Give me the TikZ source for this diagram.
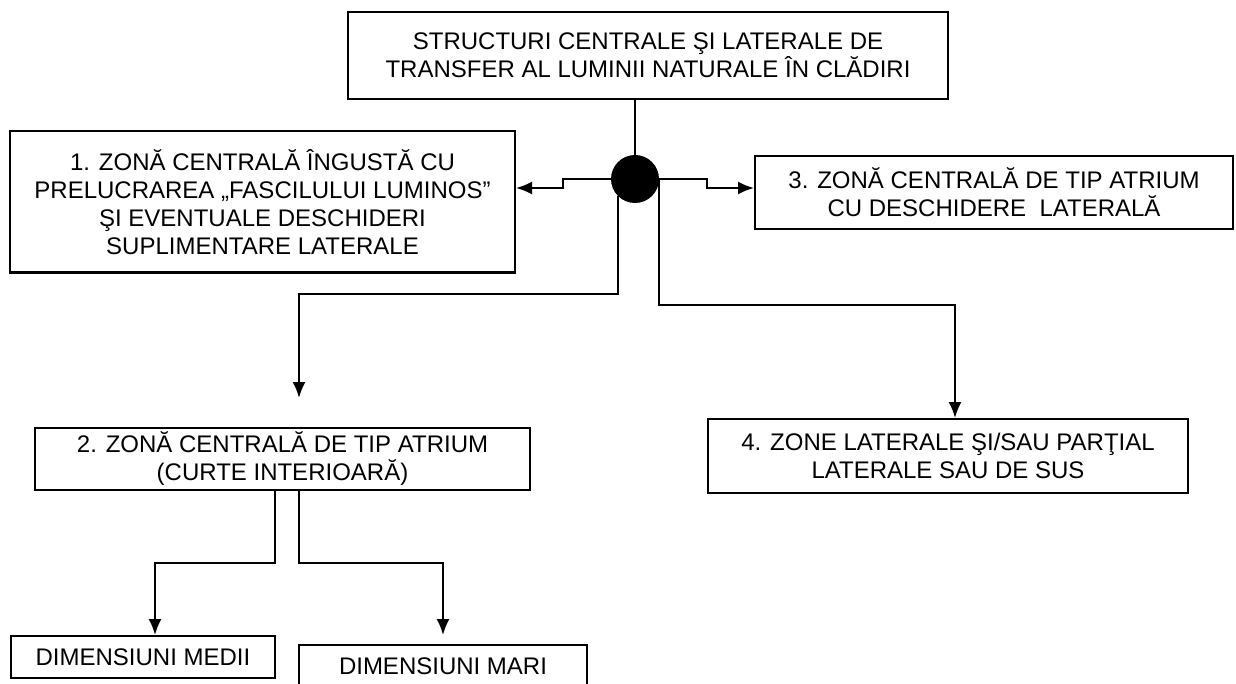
\documentclass[tikz,border=0pt]{standalone}
\usepackage{fontspec}
\setmainfont{Liberation Sans}
\usetikzlibrary{arrows.meta}

\tikzset{
  box/.style={draw, line width=1pt, align=center, inner sep=0pt,
    font=\fontsize{12}{14}\selectfont},
  flow/.style={line width=1pt, -{Latex[length=8pt,width=6.5pt]}},
  hubdot/.style={circle, fill=black, minimum size=24pt, inner sep=0pt}
}

\begin{document}
\begin{tikzpicture}[x=0.5pt,y=-0.5pt]
\clip (0,0) rectangle (1236,684);
% boxes
\node[box, minimum width=300pt, minimum height=43.5pt] (top) at (648,55.5) {STRUCTURI CENTRALE ŞI LATERALE DE\\TRANSFER AL LUMINII NATURALE ÎN CLĂDIRI};
\node[hubdot] (hub) at (635,179) {};
\node[box, minimum width=252.5pt, minimum height=70.5pt] (zone1) at (262.5,202) {1. ZONĂ CENTRALĂ ÎNGUSTĂ CU\\PRELUCRAREA „FASCILULUI LUMINOS”\\ŞI EVENTUALE DESCHIDERI\\SUPLIMENTARE LATERALE};
\node[box, minimum width=239pt, minimum height=36.5pt] (zone3) at (994,192.5) {3. ZONĂ CENTRALĂ DE TIP ATRIUM\\CU DESCHIDERE\ \ LATERALĂ};
\node[box, minimum width=247.5pt, minimum height=31pt] (zone2) at (282.5,459) {2. ZONĂ CENTRALĂ DE TIP ATRIUM\\(CURTE INTERIOARĂ)};
\node[box, minimum width=240pt, minimum height=37pt] (zone4) at (948,456) {4. ZONE LATERALE ŞI/SAU PARŢIAL\\LATERALE SAU DE SUS};
\node[box, minimum width=132pt, minimum height=21pt] (medii) at (143,657) {DIMENSIUNI MEDII};
\node[box, minimum width=144pt, minimum height=21pt] (mari) at (443,666) {DIMENSIUNI MARI};

% connectors
\coordinate (in2) at (299,398);
\coordinate (inmari) at (443,635);
\draw[line width=1pt] (hub |- top.south) -- (hub.north);
\draw[flow] (hub.west) -- ++(-48,0) -- ++(0,9) -- (zone1.east |- 0,188);
\draw[flow] (hub.east) -- ++(48,0) -- ++(0,9) -- (zone3.west |- 0,188);
\draw[flow] (hub.south west) |- (299,294) -- (in2);
\draw[flow] (hub.east) |- (955,305) -- (zone4.north -| 955,0);
\draw[flow] (zone2.south -| 275,0) |- (155,563) -- (medii.north -| 155,0);
\draw[flow] (zone2.south -| 299,0) |- (443,563) -- (inmari);
\end{tikzpicture}
\end{document}
